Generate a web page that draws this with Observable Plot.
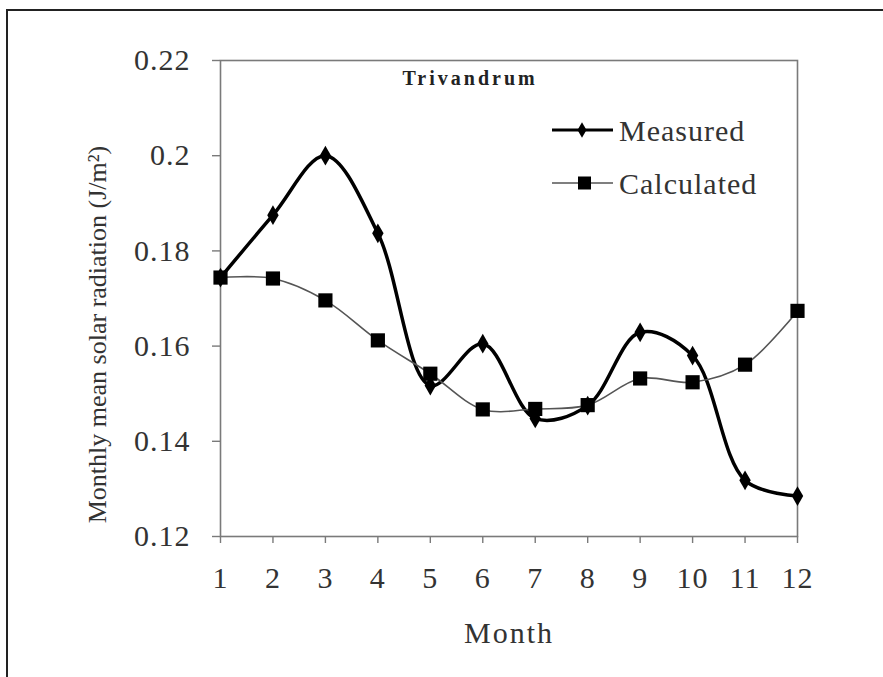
<!DOCTYPE html>
<html><head><meta charset="utf-8">
<script src="https://cdn.jsdelivr.net/npm/d3@7"></script>
<script src="https://cdn.jsdelivr.net/npm/@observablehq/plot@0.6"></script>
<style>
body{margin:0;background:#fff;}
#wrap{position:relative;width:883px;height:677px;overflow:hidden;background:#fff;}
#border{position:absolute;left:6px;top:9px;width:900px;height:700px;border-left:2.5px solid #222;border-top:2.5px solid #222;}
#chart{position:absolute;left:0;top:0;}
#legend{position:absolute;left:0;top:0;pointer-events:none;}
</style></head>
<body><div id="wrap"><div id="border"></div><div id="chart"></div><svg id="legend" width="883" height="677"></svg></div>
<script>
const months = [1,2,3,4,5,6,7,8,9,10,11,12];
const measured = [0.1744,0.1875,0.2000,0.1837,0.1517,0.1605,0.1448,0.1475,0.1629,0.1580,0.1318,0.1285];
const calculated = [0.1744,0.1742,0.1696,0.1612,0.1542,0.1467,0.1468,0.1476,0.1532,0.1524,0.1561,0.1674];
const yTicks = [0.12,0.14,0.16,0.18,0.20,0.22];
const yTickLabels = ["0.12","0.14","0.16","0.18","0.2","0.22"];
const xTickLabels = ["1","2","3","4","5","6","7","8","9","10","11","12"];
const seriesNames = ["Measured","Calculated"];
const title = "Trivandrum";
const xLabel = "Month";
const yLabel = "Monthly mean solar radiation (J/m²)";

const rows = months.map((m,i)=>({month:m, measured:measured[i], calculated:calculated[i]}));
const serif = "'Liberation Serif','Times New Roman',serif";

const chart = Plot.plot({
  width: 883, height: 677,
  marginLeft: 220, marginRight: 86, marginTop: 60, marginBottom: 141,
  style: {fontFamily: serif, background: "transparent", color:"#333"},
  x: {domain:[1,12]},
  y: {domain:[0.12,0.22]},
  marks: [
    Plot.frame({stroke:"#7a7a7a", strokeWidth:1.6}),
    Plot.axisY(yTicks, {tickSize:8, tickPadding:22, tickFormat:d=>yTickLabels[yTicks.indexOf(d)], fontSize:30, stroke:"#7a7a7a", strokeWidth:1.4, fill:"#333", label:null}),
    Plot.axisX(months, {tickSize:7, tickPadding:23, tickFormat:d=>xTickLabels[months.indexOf(d)], fontSize:30, stroke:"#7a7a7a", strokeWidth:1.4, fill:"#333", label:null}),
    Plot.line(rows, {x:"month", y:"measured", curve:"catmull-rom", stroke:"#000", strokeWidth:3.5}),
    Plot.dot(rows, {x:"month", y:"measured", symbol:"diamond", r:6, fill:"#000", stroke:null}),
    Plot.line(rows, {x:"month", y:"calculated", curve:"catmull-rom", stroke:"#555", strokeWidth:1.6}),
    Plot.dot(rows, {x:"month", y:"calculated", symbol:"square", r:8, fill:"#000", stroke:null}),
    Plot.text([title], {frameAnchor:"top-left", textAnchor:"start", lineAnchor:"middle", dx:182, dy:18, fontSize:20, fontWeight:"bold", fill:"#222"}),
    Plot.text([yLabel], {frameAnchor:"left", textAnchor:"middle", rotate:-90, dx:-123, dy:36, fontSize:26, fill:"#333", lineAnchor:"middle"}),
    Plot.text([xLabel], {frameAnchor:"bottom", dy:97, fontSize:30, fill:"#333", lineAnchor:"middle"})
  ]
});
document.getElementById("chart").appendChild(chart);
d3.select(chart).selectAll('g[aria-label="y-axis tick label"] text, g[aria-label="x-axis tick label"] text').style("letter-spacing","1px");
d3.select(chart).selectAll('g[aria-label="text"] text').filter(function(){return this.textContent===title;}).style("letter-spacing","3px");
d3.select(chart).selectAll('g[aria-label="text"] text').filter(function(){return this.textContent===xLabel;}).style("letter-spacing","2px");

// legend
const lg = d3.select("#legend");
const legendRows = [
  {name: seriesNames[0], y:130, sym:"diamond", lw:3, stroke:"#000"},
  {name: seriesNames[1], y:183, sym:"square", lw:1.6, stroke:"#555"}
];
legendRows.forEach(r=>{
  lg.append("line").attr("x1",552).attr("x2",613).attr("y1",r.y).attr("y2",r.y).attr("stroke",r.stroke).attr("stroke-width",r.lw);
  if(r.sym==="diamond"){
    lg.append("path").attr("d",d3.symbol(d3.symbolDiamond, 70)()).attr("transform",`translate(582,${r.y})`).attr("fill","#000");
  } else {
    lg.append("rect").attr("x",578).attr("y",r.y-6.5).attr("width",13).attr("height",13).attr("fill","#000");
  }
  lg.append("text").attr("x",619).attr("y",r.y).attr("dy","0.35em").attr("font-family",serif).attr("font-size",30).attr("fill","#333").style("letter-spacing","1px").text(r.name);
});
</script>
</body></html>
